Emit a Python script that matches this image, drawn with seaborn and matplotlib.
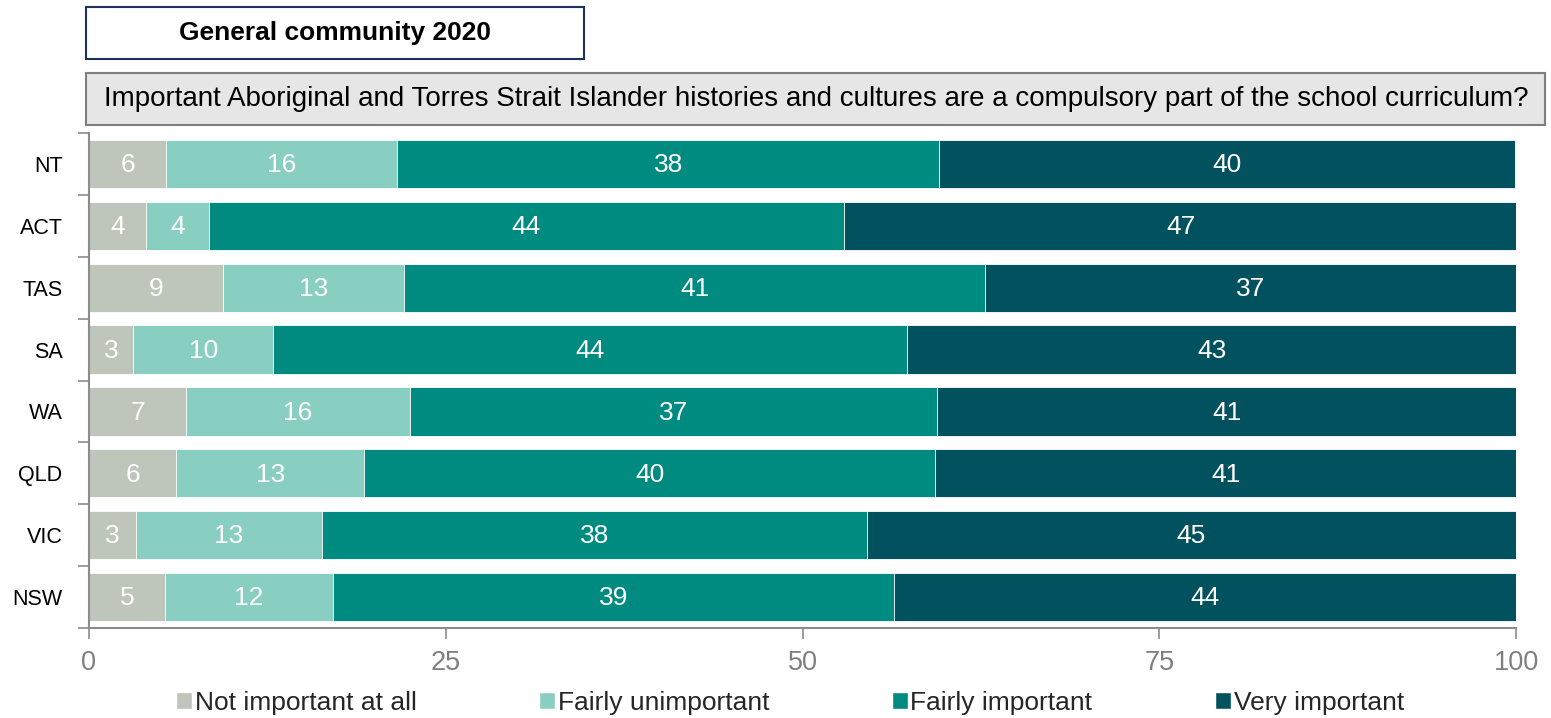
import matplotlib
matplotlib.use("Agg")
import matplotlib.pyplot as plt
from matplotlib.patches import Rectangle
from matplotlib.ticker import FixedLocator
import numpy as np
import pandas as pd
import seaborn as sns

states = ["NT", "ACT", "TAS", "SA", "WA", "QLD", "VIC", "NSW"]
series = ["Not important at all", "Fairly unimportant", "Fairly important", "Very important"]
not_important = [5.4, 4.0, 9.4, 3.1, 6.8, 6.1, 3.3, 5.3]
fairly_unimportant = [16.2, 4.4, 12.7, 9.8, 15.7, 13.2, 13.0, 11.8]
fairly_important = [38.0, 44.5, 40.7, 44.4, 36.9, 40.0, 38.2, 39.3]
very_important = [40.3, 47.2, 37.2, 42.8, 40.7, 40.7, 45.5, 43.6]
lab_not = [6, 4, 9, 3, 7, 6, 3, 5]
lab_fu = [16, 4, 13, 10, 16, 13, 13, 12]
lab_fi = [38, 44, 41, 44, 37, 40, 38, 39]
lab_vi = [40, 47, 37, 43, 41, 41, 45, 44]
xticks = [0, 25, 50, 75, 100]
title = "General community 2020"
question = ("Important Aboriginal and Torres Strait Islander histories and cultures "
            "are a compulsory part of the school curriculum?")
colors = ["#BEC5BB", "#89CFC1", "#008B80", "#01525E"]

sns.set_style("white")
plt.rcParams["font.family"] = ["Liberation Sans", "DejaVu Sans"]

vals = np.array([not_important, fairly_unimportant, fairly_important, very_important])
labs = [lab_not, lab_fu, lab_fi, lab_vi]
cum = np.cumsum(vals, axis=0)
starts = cum - vals

fig = plt.figure(figsize=(15.51, 7.18), dpi=100)
ax = fig.add_axes([89/1551, 1-628/718, (1516-89)/1551, (628-133)/718])

# stacked via overlapping cumulative bars, drawn from longest to shortest
for i in range(3, -1, -1):
    df = pd.DataFrame({"state": states, "value": cum[i]})
    sns.barplot(data=df, x="value", y="state", order=states, orient="h",
                color=colors[i], width=0.78, errorbar=None, ax=ax,
                edgecolor="white", linewidth=0.6, saturation=1)

for i in range(4):
    for j in range(len(states)):
        ax.text(starts[i][j] + vals[i][j]/2, j + 0.02, str(labs[i][j]), ha="center",
                va="center", color="white", fontsize=19)

ax.set_xlim(0, 100)
ax.set_ylim(7.5, -0.5)
ax.set_xlabel("")
ax.set_ylabel("")
for s in ["top", "right"]:
    ax.spines[s].set_visible(False)
for s in ["left", "bottom"]:
    ax.spines[s].set_color("#8C8C8C")
    ax.spines[s].set_linewidth(1.5)

ax.set_xticks(xticks)
ax.set_xticklabels([str(t) for t in xticks])
ax.tick_params(axis="x", direction="out", length=8, width=1.2, color="#8C8C8C",
               labelcolor="#7F7F7F", labelsize=19.5, pad=8, bottom=True)
ax.tick_params(axis="y", which="major", length=0, labelsize=15.5, labelcolor="black", pad=19)
ax.yaxis.set_minor_locator(FixedLocator(np.arange(-0.5, 8, 1)))
ax.tick_params(axis="y", which="minor", direction="out", length=8, width=1.2,
               color="#8C8C8C", left=True)
ax.grid(False)

# header boxes
fig.add_artist(Rectangle((86/1551, 1-59/718), 498/1551, 52/718, transform=fig.transFigure,
                         facecolor="white", edgecolor="#1F2F5F", linewidth=1.5))
fig.text(335/1551, 1-33/718, title, ha="center", va="center", fontsize=19,
         fontweight="bold", color="black")
fig.add_artist(Rectangle((86/1551, 1-125/718), 1459/1551, 52/718, transform=fig.transFigure,
                         facecolor="#E6E6E6", edgecolor="#7F7F7F", linewidth=1.5))
fig.text(816.5/1551, 1-99/718, question, ha="center", va="center", fontsize=20,
         color="black")

handles = [Rectangle((0, 0), 1, 1, facecolor=c) for c in colors]
fig.legend(handles, series, loc="center", bbox_to_anchor=(790/1551, 15/718), ncol=4,
           frameon=False, fontsize=19, handlelength=0.6, handleheight=0.6,
           handletextpad=0.1, columnspacing=4.65, borderaxespad=0)

fig.savefig("out.png", dpi=100)
